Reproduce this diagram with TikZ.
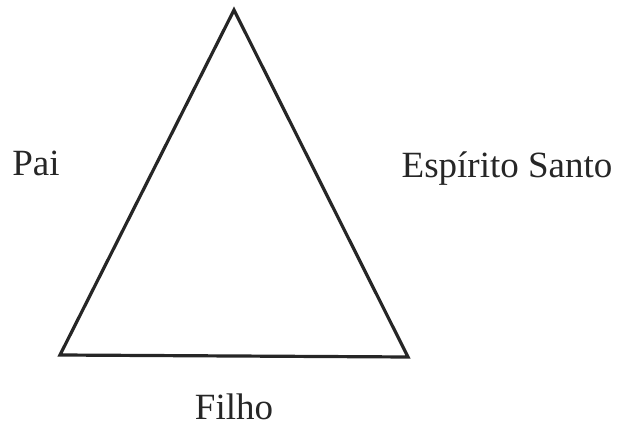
\documentclass[tikz,border=0pt]{standalone}
\usepackage{fontspec}
\setmainfont{Liberation Serif}
\begin{document}
\begin{tikzpicture}[x=1pt,y=-1pt,
  lbl/.style={font=\fontsize{37}{40}\selectfont, text=black!85, inner sep=0pt, anchor=base},
  edge/.style={line width=3.2pt, draw=black!85, line join=miter}]
\useasboundingbox (0,0) rectangle (621,427);
\coordinate (top) at (234,10);
\coordinate (bl) at (60,355);
\coordinate (br) at (408,357);
\draw[edge] (top) -- (br) -- (bl) -- cycle;
\node[lbl] (pai) at (36,176) {Pai};
\node[lbl] (esp) at (507,178) {Espírito Santo};
\node[lbl] (filho) at (234,419) {Filho};
\end{tikzpicture}
\end{document}
